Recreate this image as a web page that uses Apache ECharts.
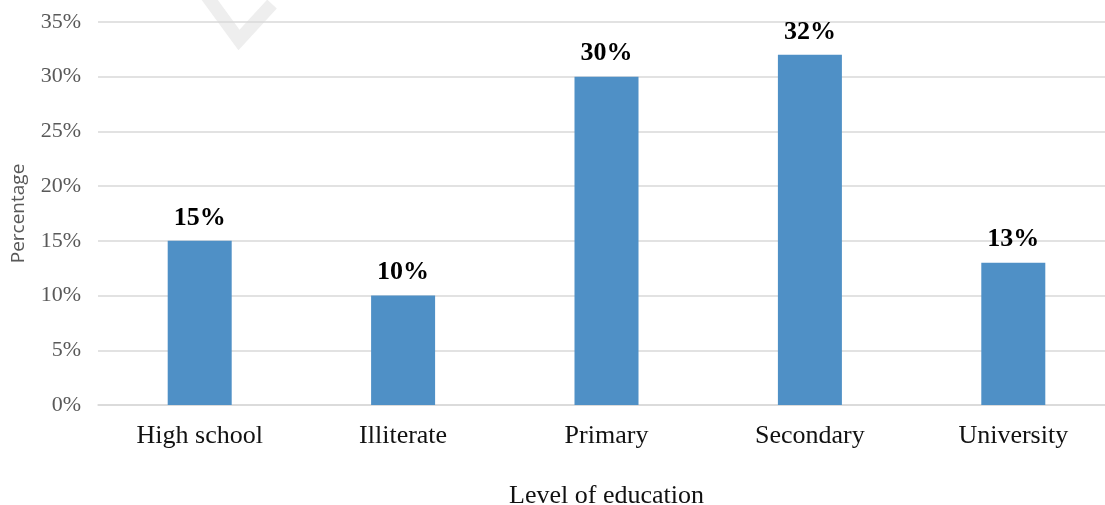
<!DOCTYPE html>
<html>
<head>
<meta charset="utf-8">
<script src="https://cdn.jsdelivr.net/npm/echarts@6/dist/echarts.min.js"></script>
<style>
  html, body { margin: 0; padding: 0; background: #ffffff; }
  #chart { width: 1105px; height: 505px; }
</style>
</head>
<body>
<div id="chart"></div>
<script>
// Share of respondents by level of education
const categories = ['High school', 'Illiterate', 'Primary', 'Secondary', 'University'];
const percentages = [15, 10, 30, 32, 13];
const yTicks = [0, 5, 10, 15, 20, 25, 30, 35];

const chart = echarts.init(document.getElementById('chart'), null, { renderer: 'canvas' });

chart.setOption({
  backgroundColor: '#ffffff',
  animation: false,
  // faint watermark stroke behind the plot
  graphic: [{
    type: 'polyline',
    shape: { points: [[201, -12], [239, 40], [272, 4]] },
    style: { stroke: '#eeeeee', lineWidth: 13, fill: null, lineJoin: 'miter' },
    z: -10,
    silent: true
  }],
  grid: { left: 98, top: 22, width: 1017, height: 383, outerBoundsMode: 'none' },
  xAxis: {
    type: 'category',
    data: categories,
    axisTick: { show: false },
    axisLine: { lineStyle: { color: '#d9d9d9', width: 1.5 } },
    axisLabel: {
      margin: 18,
      color: '#111111',
      fontFamily: '"Liberation Serif", serif',
      fontSize: 26
    },
    name: 'Level of education',
    nameLocation: 'middle',
    nameGap: 78,
    nameTextStyle: {
      color: '#111111',
      fontFamily: '"Liberation Serif", serif',
      fontSize: 26
    }
  },
  yAxis: {
    type: 'value',
    min: yTicks[0],
    max: yTicks[yTicks.length - 1],
    interval: 5,
    axisLine: { show: false },
    axisTick: { show: false },
    splitLine: { lineStyle: { color: '#d9d9d9', width: 1.5 } },
    axisLabel: {
      margin: 17,
      color: '#595959',
      fontFamily: '"Liberation Serif", serif',
      fontSize: 22,
      formatter: v => v + '%'
    },
    name: 'Percentage',
    nameLocation: 'middle',
    nameGap: 70,
    nameTextStyle: {
      color: '#595959',
      fontFamily: '"Open Sans", sans-serif',
      fontSize: 19
    }
  },
  series: [{
    type: 'bar',
    data: percentages,
    barWidth: 64,
    itemStyle: { color: '#4f90c6' },
    label: {
      show: true,
      position: 'top',
      distance: 10,
      color: '#000000',
      fontFamily: '"Liberation Serif", serif',
      fontWeight: 'bold',
      fontSize: 26,
      formatter: p => p.value + '%'
    }
  }]
});
</script>
</body>
</html>
